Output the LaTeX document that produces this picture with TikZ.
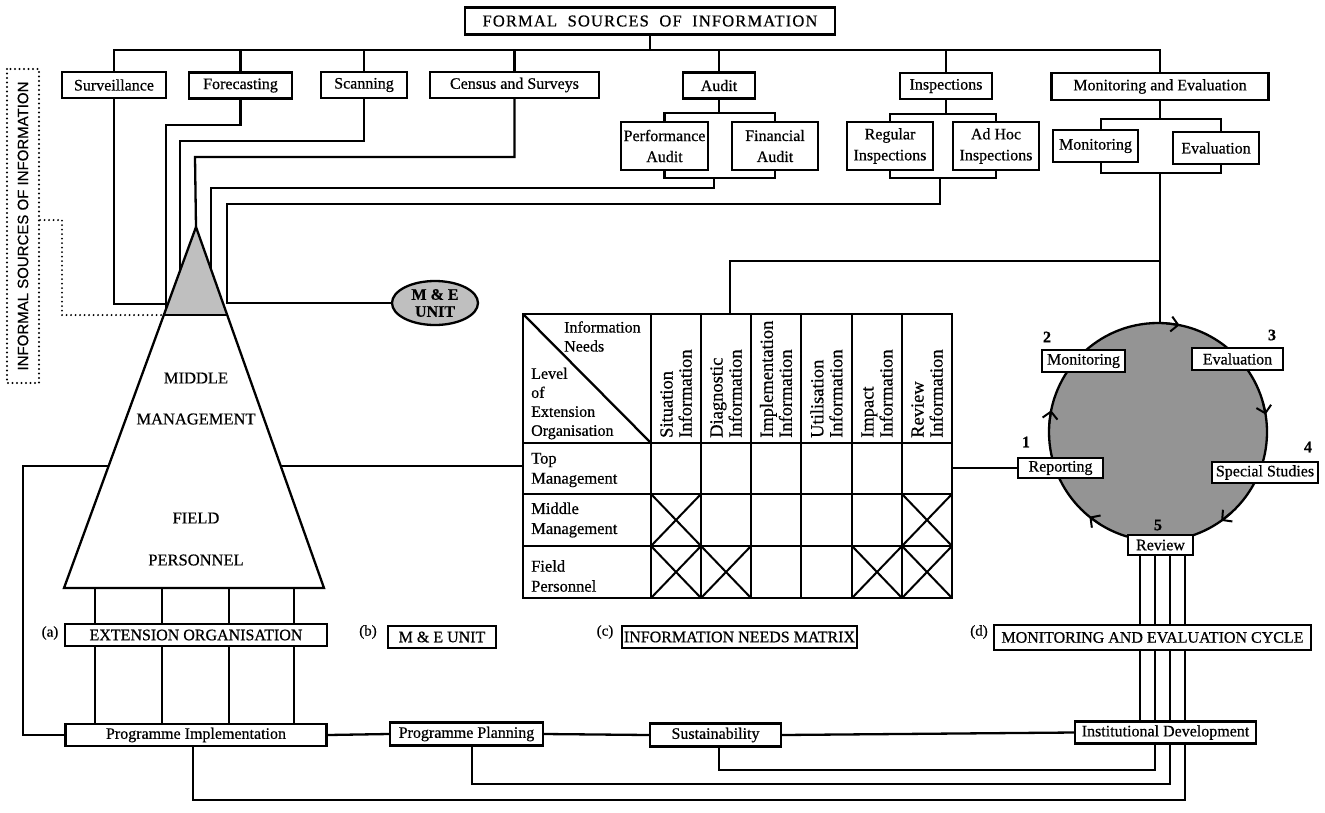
\documentclass[tikz,border=0pt]{standalone}
\usepackage{fontspec}
\setmainfont{Liberation Serif}[FakeBold=0.6]
\newfontfamily\infsans{Liberation Sans}[FakeBold=0.5]
\usetikzlibrary{arrows.meta,shapes.geometric}
\pgfdeclarelayer{bg}
\pgfsetlayers{bg,main}
\newcommand{\fsz}[2]{\fontsize{#1}{#2}\selectfont}
\begin{document}
\begin{tikzpicture}[x=1pt,y=-1pt,
  ln/.style={line width=2.3pt},
  bx/.style={draw,line width=2.3pt,fill=white,inner sep=0pt,align=center,font=\fsz{16}{20}},
  lab/.style={inner sep=0pt,font=\fsz{15}{18}},
  ptxt/.style={inner sep=0pt,font=\fsz{16.5}{18}},
  mline/.style={line width=2.3pt},
  crossln/.style={line width=2pt},
  mtxt/.style={inner sep=0pt,align=left,anchor=west,font=\fsz{16.5}{20}},
  chead/.style={inner sep=0pt,align=left,rotate=90,anchor=west,font=\fsz{18.5}{19}},
  dotln/.style={line width=2.2pt,line cap=round,dash pattern=on 0pt off 4.5pt},
  cyarr/.style={line width=2pt,-{Straight Barb[length=7pt,width=15pt]}},
  num/.style={inner sep=0pt,font=\bfseries\fsz{16}{18}},
]
\useasboundingbox (0,0) rectangle (1325,812);

% ---------- top boxes ----------
\node[bx,minimum width=370pt,minimum height=27pt,font=\fsz{16.5}{18}\addfontfeature{LetterSpace=7}] (formal) at (650,21) {FORMAL\ \ SOURCES\ \ OF\ \ INFORMATION};
\node[bx,minimum width=104pt,minimum height=26pt] (surv) at (114,85) {Surveillance};
\node[bx,minimum width=103pt,minimum height=26pt] (fore) at (240.5,85.5) {Forecasting};
\node[bx,minimum width=86pt,minimum height=26pt] (scan) at (364,85) {Scanning};
\node[bx,minimum width=169pt,minimum height=26pt] (cens) at (514.5,85) {Census and Surveys};
\node[bx,minimum width=72pt,minimum height=26pt] (audit) at (719,85.5) {Audit};
\node[bx,minimum width=92pt,minimum height=26pt] (insp) at (946,86) {Inspections};
\node[bx,minimum width=217pt,minimum height=27pt] (mande) at (1160,86.5) {Monitoring and Evaluation};

\node[bx,minimum width=87pt,minimum height=48pt,font=\fsz{16}{21}] (perf) at (664.5,146) {Performance\\Audit};
\node[bx,minimum width=86pt,minimum height=48pt,font=\fsz{16}{21}] (fin) at (775,146) {Financial\\Audit};
\node[bx,minimum width=86pt,minimum height=48pt,font=\fsz{16}{21}] (reg) at (890,146) {Regular\\Inspections};
\node[bx,minimum width=86pt,minimum height=48pt,font=\fsz{16}{21}] (adhoc) at (996,146) {Ad Hoc\\Inspections};
\node[bx,minimum width=85pt,minimum height=32pt] (mon) at (1095.5,146) {Monitoring};
\node[bx,minimum width=86pt,minimum height=32pt] (evalb) at (1216,148) {Evaluation};

% ---------- informal sources ----------
\node[draw,dotln,rotate=90,minimum width=314pt,minimum height=32pt,inner sep=0pt,font=\infsans\fsz{15}{18}] (inf) at (23,226) {INFORMAL SOURCES OF INFORMATION};

% ---------- pyramid ----------
\coordinate (apex) at (196,227);
\coordinate (pbl) at (64,588);
\coordinate (pbr) at (324,588);
\coordinate (tl) at (163.8,315);
\coordinate (tr) at (227.2,315);
\coordinate (pSurv) at (168,304);
\coordinate (pFore) at (166,309);
\coordinate (pScan) at (180,271);
\coordinate (pAud) at (211,269);
\coordinate (pL) at (108.6,466);
\coordinate (pR) at (280.7,466);
\fill[black!25] (apex) -- (tl) -- (tr) -- cycle;
\draw[ln,line join=miter] (apex) -- (pbl) -- (pbr) -- cycle;
\draw[ln] (tl) -- (tr);
\node[ptxt] (tmid) at (196,378) {MIDDLE};
\node[ptxt] (tman) at (196,419) {MANAGEMENT};
\node[ptxt] (tfie) at (196,518) {FIELD};
\node[ptxt] (tper) at (196,560) {PERSONNEL};

% ---------- M&E unit ellipse ----------
\node[ellipse,draw,line width=2.3pt,fill=black!25,minimum width=86pt,minimum height=44pt,inner sep=0pt,align=center,font=\bfseries\fsz{16}{17}] (meu) at (435,303) {M \& E\\UNIT};

% ---------- matrix ----------
\coordinate (mL) at (523,466);
\coordinate (mR) at (952,468);
\coordinate (mT) at (730,314);
\draw[mline] (523,314) rectangle (952,598);
\foreach \y in {443,494,546} \draw[mline] (523,\y) -- (952,\y);
\foreach \x in {651,701,751,801,852,902} \draw[mline] (\x,314) -- (\x,598);
\draw[mline] (523,314) -- (651,443);
\node[mtxt,font=\fsz{16}{19}] (cInfo) at (564,336.5) {Information\\Needs};
\node[mtxt,font=\fsz{16}{19}] (cLevel) at (531,403.5) {Level\\of\\Extension\\Organisation};
\foreach \x/\t [count=\i] in {676/Situation,726/Diagnostic,776/Implementation,826.5/Utilisation,877/Impact,927/Review}
  \node[chead] (ch\i) at (\x,438) {\t\\Information};
\node[mtxt] (rTop) at (531,470) {Top\\Management};
\node[mtxt] (rMid) at (531,520) {Middle\\Management};
\node[mtxt] (rFie) at (531,576) {Field\\Personnel};
\foreach \a/\b/\c/\d in {651/494/701/546,902/494/952/546,651/546/701/598,701/546/751/598,852/546/902/598,902/546/952/598}
  {\draw[crossln] (\a,\b) -- (\c,\d); \draw[crossln] (\a,\d) -- (\c,\b);}

% ---------- cycle ----------
\node[circle,draw,line width=2.3pt,fill=black!42,minimum size=218pt,inner sep=0pt] (cyc) at (1158,432) {};
\coordinate (cyctop) at (1160,323.5);
\foreach \a in {-78.6,-9.2,54.6,129,191.5}
  \draw[cyarr] ([shift={(1158,432)}]\a-7:109) -- ([shift={(1158,432)}]\a:109);
\node[bx,minimum width=83pt,minimum height=22pt] (cmon) at (1083.5,361) {Monitoring};
\node[bx,minimum width=91pt,minimum height=22pt] (ceval) at (1237.5,359) {Evaluation};
\node[bx,minimum width=85pt,minimum height=20pt] (crep) at (1060.5,468) {Reporting};
\node[bx,minimum width=106pt,minimum height=21pt] (cspec) at (1265,472.5) {Special Studies};
\node[bx,minimum width=65pt,minimum height=20pt] (crev) at (1160.5,545) {Review};
\node[num] (n1) at (1026,442) {1};
\node[num] (n2) at (1047,337) {2};
\node[num] (n3) at (1272,335) {3};
\node[num] (n4) at (1308,447) {4};
\node[num] (n5) at (1158,525) {5};

% ---------- bottom captions ----------
\node[lab] (la) at (50,633) {(a)};
\node[bx,minimum width=262pt,minimum height=22pt] (ext) at (196,635) {EXTENSION ORGANISATION};
\node[lab] (lb) at (368,632) {(b)};
\node[bx,minimum width=108pt,minimum height=22pt] (meub) at (442,637) {M \& E UNIT};
\node[lab] (lc) at (605,632) {(c)};
\node[bx,minimum width=235pt,minimum height=22pt] (inm) at (739.5,637) {INFORMATION NEEDS MATRIX};
\node[lab] (ld) at (979,632) {(d)};
\node[bx,minimum width=317pt,minimum height=25pt] (mec) at (1152.5,637.5) {MONITORING AND EVALUATION CYCLE};

\node[bx,minimum width=261pt,minimum height=22pt] (pimp) at (196,735) {Programme Implementation};
\node[bx,minimum width=153pt,minimum height=23pt] (pplan) at (466.5,734) {Programme Planning};
\node[bx,minimum width=131pt,minimum height=23pt] (sust) at (715.5,735) {Sustainability};
\node[bx,minimum width=181pt,minimum height=22pt] (inst) at (1165.5,732.5) {Institutional Development};

% ---------- connectors ----------
\begin{pgfonlayer}{bg}
\coordinate (bus) at (0,50);
\draw[ln] (surv.north) -- (surv.north |- bus) -- (mande.north |- bus) -- (mande.north);
\foreach \n in {fore,scan,cens,audit,insp} \draw[ln] (\n.north) -- (\n.north |- bus);
\draw[ln] (formal.south) -- (formal.south |- bus);

\draw[ln] (surv.south) |- (pSurv);
\draw[ln] (fore.south) |- (166,125) -- (pFore);
\draw[ln] (scan.south) |- (180,141) -- (pScan);
\draw[ln] (cens.south) |- (195,157) -- (apex);

\draw[ln] (perf.north) -- ++(0,-8) -| (fin.north);
\draw[ln] (audit.south) -- (audit.south |- 0,114);
\draw[ln] (perf.south) -- ++(0,7) -| (fin.south);
\coordinate (audb) at (714,177);
\draw[ln] (audb) -- (714,188) -- (211,188) -- (pAud);

\draw[ln] (reg.north) -- ++(0,-7) -| (adhoc.north);
\draw[ln] (insp.south) -- (insp.south |- 0,115);
\draw[ln] (reg.south) -- ++(0,7) -| (adhoc.south);
\coordinate (inspb) at (940,177);
\draw[ln] (inspb) -- (940,204) -- (227,204) -- (227,303) -- (meu.west);

\draw[ln] ([xshift=5.5pt]mon.north) -- ++(0,-10) -| ([xshift=5pt]evalb.north);
\draw[ln] (mande.south) -- (mande.south |- 0,120);
\draw[ln] ([xshift=5.5pt]mon.south) -- ++(0,10) -| ([xshift=5pt]evalb.south);
\draw[ln] (mande.south |- 0,172) -- (cyctop);
\draw[ln] (mT) -- (730,261) -- (1160,261);

\draw[dotln] ([yshift=6pt]inf.south) -- (62,220) -- (62,315) -- (tl);

\draw[ln] (pL) -- (23,466) -- (23,735) -- (pimp.west);
\draw[ln] (pR) -- (mL);
\draw[ln] (mR) -- (crep.west);

\foreach \x in {95,162,229,294} \draw[ln] (\x,588) -- (\x,724);

\draw[ln] (pimp.east) -- (pplan.west);
\draw[ln] (pplan.east) -- (sust.west);
\draw[ln] (sust.east) -- (inst.west);

\draw[ln] (1140,555) -- (1140,721.5);
\draw[ln] (1155,555) -- (1155,770) -| ([xshift=3.5pt]sust.south);
\draw[ln] (1170,555) -- (1170,784) -| ([xshift=5.5pt]pplan.south);
\draw[ln] (1185,555) -- (1185,800) -| ([xshift=-3pt]pimp.south);
\end{pgfonlayer}
\end{tikzpicture}
\end{document}
